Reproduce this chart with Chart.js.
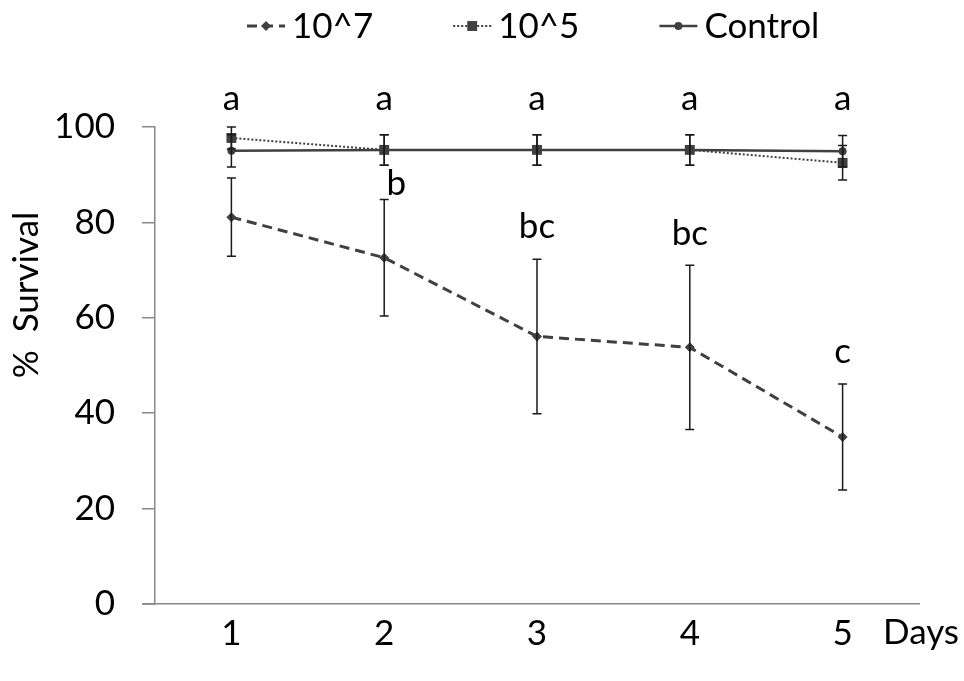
<!DOCTYPE html>
<html>
<head>
<meta charset="utf-8">
<script src="https://cdn.jsdelivr.net/npm/chart.js@4.4.1/dist/chart.umd.min.js"></script>
<style>
  html, body { margin: 0; padding: 0; background: #fff; }
  #wrap { width: 964px; height: 681px; }
</style>
</head>
<body>
<div id="wrap"><canvas id="graph"></canvas></div>
<script>
const days = ['1', '2', '3', '4', '5']
const yTicks = [0, 20, 40, 60, 80, 100]

const high = [81.1, 72.6, 56.1, 53.8, 35.0]        // 10^7
const highErr = [8.2, 12.2, 16.2, 17.2, 11.1]
const low = [97.7, 95.2, 95.2, 95.2, 92.5]         // 10^5
const lowErr = [2.3, 3.2, 3.2, 3.2, 3.6]
const control = [95.0, 95.2, 95.2, 95.2, 94.9]
const controlErr = [3.4, 3.2, 3.2, 3.2, 3.3]

const upperLetters = ['a', 'a', 'a', 'a', 'a']
const lowerLetters = ['', 'b', 'bc', 'bc', 'c']

const FONT = 'Lato, "Open Sans", sans-serif'
const SIZE = 35
const INK = '#404040'

const errors = [highErr, lowErr, controlErr]

const errorBars = {
    id: 'errorBars',
    afterDatasetsDraw(chart) {
        const ctx = chart.ctx
        const y = chart.scales.y
        ctx.save()
        ctx.strokeStyle = '#1a1a1a'
        ctx.lineWidth = 1.5
        chart.data.datasets.forEach((ds, i) => {
            const meta = chart.getDatasetMeta(i)
            meta.data.forEach((pt, j) => {
                const v = ds.data[j], e = errors[i][j]
                const top = y.getPixelForValue(v + e)
                const bot = y.getPixelForValue(v - e)
                ctx.beginPath()
                ctx.moveTo(pt.x, top); ctx.lineTo(pt.x, bot)
                ctx.moveTo(pt.x - 4.5, top); ctx.lineTo(pt.x + 4.5, top)
                ctx.moveTo(pt.x - 4.5, bot); ctx.lineTo(pt.x + 4.5, bot)
                ctx.stroke()
            })
        })
        ctx.restore()
    }
}

const extras = {
    id: 'extras',
    afterDraw(chart) {
        const ctx = chart.ctx
        const area = chart.chartArea
        const x = chart.scales.x, y = chart.scales.y
        ctx.save()

        // x axis line runs a bit left of the y axis
        ctx.strokeStyle = '#888'
        ctx.lineWidth = 1.5
        ctx.beginPath()
        ctx.moveTo(area.left - 13, area.bottom)
        ctx.lineTo(area.left, area.bottom)
        ctx.stroke()

        ctx.fillStyle = '#000'
        ctx.font = SIZE + 'px ' + FONT
        ctx.textBaseline = 'middle'

        // significance letters
        ctx.textAlign = 'center'
        upperLetters.forEach((s, j) => {
            ctx.fillText(s, x.getPixelForValue(j), y.getPixelForValue(100) - 28)
        })
        lowerLetters.forEach((s, j) => {
            if (!s) return
            let px = x.getPixelForValue(j)
            let py = y.getPixelForValue(high[j] + highErr[j]) - 32
            if (j === 1) { px += 12; py += 16 }
            ctx.fillText(s, px, py)
        })

        // Days label
        ctx.textAlign = 'left'
        ctx.fillText('Days', area.right - 36, area.bottom + 29)

        // y title
        ctx.save()
        ctx.translate(27, 295)
        ctx.rotate(-Math.PI / 2)
        ctx.textAlign = 'center'
        ctx.fillText('%  Survival', 0, 0)
        ctx.restore()

        // legend
        const items = chart.data.datasets
        const lineW = 38, gapText = 7, gapItem = 80
        let cx = 247
        const ly = 26
        items.forEach((ds) => {
            ctx.save()
            ctx.strokeStyle = ds.borderColor
            ctx.lineWidth = ds.borderWidth
            ctx.setLineDash(ds.borderDash || [])
            ctx.beginPath()
            ctx.moveTo(cx, ly); ctx.lineTo(cx + lineW, ly)
            ctx.stroke()
            ctx.setLineDash([])
            ctx.fillStyle = ds.pointBackgroundColor
            Chart.helpers.drawPoint(ctx, {
                pointStyle: ds.pointStyle, radius: ds.pointRadius, rotation: 0, borderWidth: 0
            }, cx + lineW / 2, ly)
            ctx.restore()
            ctx.textAlign = 'left'
            ctx.fillText(ds.label, cx + lineW + gapText, ly + 1)
            cx += lineW + gapText + ctx.measureText(ds.label).width + gapItem
        })
        ctx.restore()
    }
}

new Chart(document.getElementById('graph'), {
    type: 'line',
    data: {
        labels: days,
        datasets: [
            {
                label: '10^7',
                data: high,
                borderColor: INK,
                borderWidth: 3,
                borderDash: [10, 6],
                pointStyle: 'rectRot',
                pointRadius: 5,
                pointBackgroundColor: INK,
                pointBorderWidth: 0
            },
            {
                label: '10^5',
                data: low,
                borderColor: INK,
                borderWidth: 2,
                borderDash: [2, 2],
                pointStyle: 'rect',
                pointRadius: 7,
                pointBackgroundColor: INK,
                pointBorderWidth: 0
            },
            {
                label: 'Control',
                data: control,
                borderColor: INK,
                borderWidth: 2.5,
                pointStyle: 'circle',
                pointRadius: 4,
                pointBackgroundColor: INK,
                pointBorderWidth: 0
            }
        ]
    },
    options: {
        responsive: true,
        maintainAspectRatio: false,
        animation: false,
        layout: { padding: { top: 127, right: 45, left: 0, bottom: 0 } },
        plugins: {
            legend: { display: false },
            tooltip: { enabled: false }
        },
        scales: {
            x: {
                offset: true,
                grid: { display: false, drawTicks: false },
                border: { color: '#888', width: 1.5 },
                ticks: { color: '#000', font: { family: FONT, size: SIZE }, padding: 9 },
                afterFit: (s) => { s.height = 77 }
            },
            y: {
                min: 0,
                max: 100,
                afterBuildTicks: (s) => { s.ticks = yTicks.map(v => ({ value: v })) },
                grid: { drawOnChartArea: false, drawTicks: true, tickLength: 13, color: '#888', lineWidth: 1.5 },
                border: { color: '#888', width: 1.5 },
                ticks: { color: '#000', font: { family: FONT, size: SIZE }, padding: 27 },
                afterFit: (s) => { s.width = 155 }
            }
        }
    },
    plugins: [errorBars, extras]
})
</script>
</body>
</html>
